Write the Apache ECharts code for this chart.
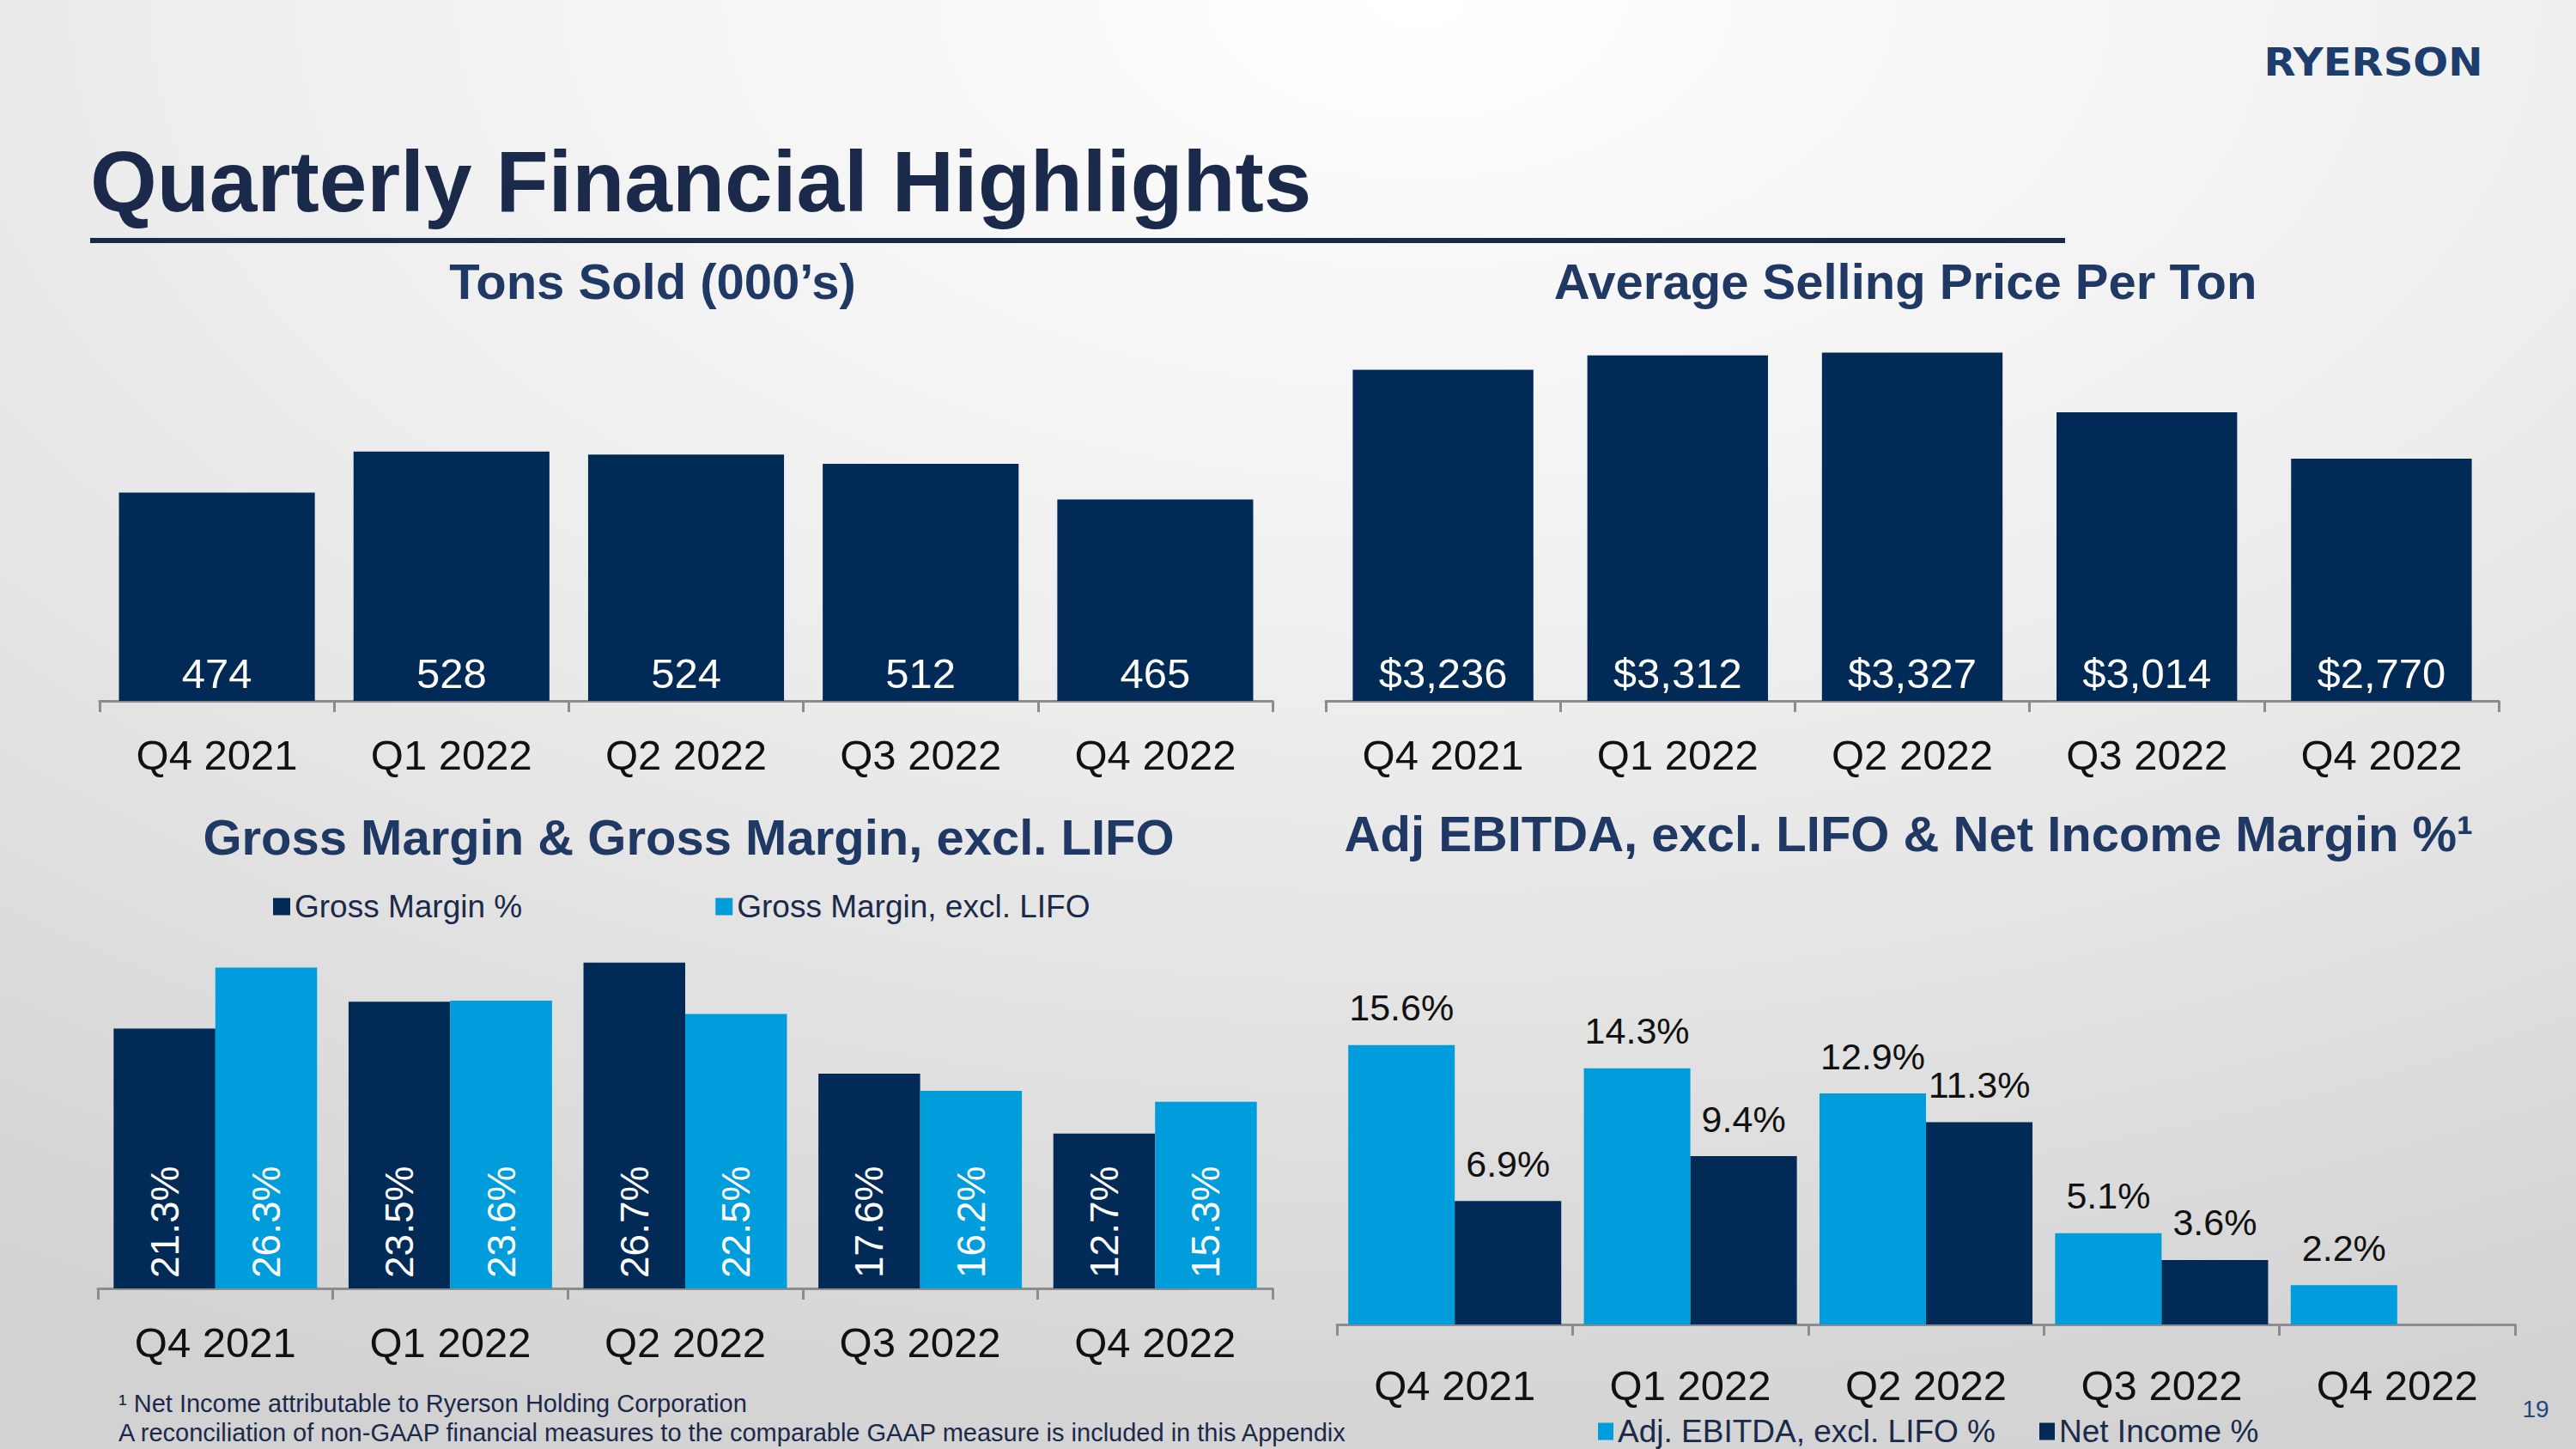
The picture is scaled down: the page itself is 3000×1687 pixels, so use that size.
<!DOCTYPE html>
<html>
<head>
<meta charset="utf-8">
<script src="https://cdn.jsdelivr.net/npm/echarts@6/dist/echarts.min.js"></script>
<style>
html,body{margin:0;padding:0;width:100%;height:100%;overflow:hidden;}
#chart{width:3000px;height:1687px;}
</style>
</head>
<body>
<div id="chart"></div>
<script>
// ---- data ----
const quarters = ['Q4 2021', 'Q1 2022', 'Q2 2022', 'Q3 2022', 'Q4 2022'];
const tonsSold = [474, 528, 524, 512, 465];
const avgSellingPrice = [3236, 3312, 3327, 3014, 2770];
const grossMargin = [21.3, 23.5, 26.7, 17.6, 12.7];
const grossMarginExLifo = [26.3, 23.6, 22.5, 16.2, 15.3];
const adjEbitdaMargin = [15.6, 14.3, 12.9, 5.1, 2.2];
const netIncomeMargin = [6.9, 9.4, 11.3, 3.6, null];

// ---- styles ----
const NAVY = '#012a57';
const BLUE = '#009ddc';
const FONT = '"Liberation Sans", Arial, sans-serif';
const TITLE_C = '#1b2a4a';
const SUB_C = '#1f3864';

const chart = echarts.init(document.getElementById('chart'), null, {renderer: 'svg'});

function xAxis(gridIndex, margin) {
  return {
    type: 'category', gridIndex, data: quarters,
    axisLine: {show: true, lineStyle: {color: '#8c8c8c', width: 3}},
    axisTick: {show: true, length: 13, lineStyle: {color: '#8c8c8c', width: 3}},
    axisLabel: {interval: 0, fontSize: 49, color: '#111', fontFamily: FONT, margin: margin}
  };
}
function yAxis(gridIndex, min, max) {
  return {type: 'value', gridIndex, min, max, show: false, splitLine: {show: false}};
}
const pct = p => p.value == null ? '' : p.value.toFixed(1) + '%';

const option = {
  backgroundColor: {
    type: 'radial', x: 0.55, y: 0.0, r: 1.05,
    colorStops: [
      {offset: 0, color: '#ffffff'},
      {offset: 0.45, color: '#eeeeee'},
      {offset: 1, color: '#d2d2d3'}
    ]
  },
  animation: false,
  grid: [
    {left: 116, top: 462, width: 1366, height: 354},
    {left: 1544, top: 372, width: 1366, height: 444},
    {left: 114, top: 1074, width: 1368, height: 426},
    {left: 1557, top: 1125, width: 1372, height: 417}
  ],
  xAxis: [xAxis(0, 38), xAxis(1, 38), xAxis(2, 38), xAxis(3, 46)],
  yAxis: [yAxis(0, 200, 600), yAxis(1, 1500, 3500), yAxis(2, 0, 30), yAxis(3, 0, 20)],
  legend: [
    {
      data: ['Gross Margin %', 'Gross Margin, excl. LIFO'],
      left: 313, top: 1032, itemWidth: 20, itemHeight: 20, itemGap: 225, icon: 'rect',
      textStyle: {fontSize: 37, color: TITLE_C, fontFamily: FONT}
    },
    {
      data: ['Adj. EBITDA, excl. LIFO %', 'Net Income %'],
      left: 1856, top: 1643, itemWidth: 18, itemHeight: 20, itemGap: 51, icon: 'rect',
      textStyle: {fontSize: 37, color: TITLE_C, fontFamily: FONT}
    }
  ],
  series: [
    {
      name: 'Tons Sold', type: 'bar', xAxisIndex: 0, yAxisIndex: 0, data: tonsSold,
      barCategoryGap: '16.5%', itemStyle: {color: NAVY},
      label: {show: true, position: 'insideBottom', distance: 8, color: '#fff', fontSize: 49, fontFamily: FONT}
    },
    {
      name: 'Average Selling Price Per Ton', type: 'bar', xAxisIndex: 1, yAxisIndex: 1, data: avgSellingPrice,
      barCategoryGap: '23%', itemStyle: {color: NAVY},
      label: {show: true, position: 'insideBottom', distance: 8, color: '#fff', fontSize: 49, fontFamily: FONT,
        formatter: p => '$' + p.value.toLocaleString('en-US')}
    },
    {
      name: 'Gross Margin %', type: 'bar', xAxisIndex: 2, yAxisIndex: 2, data: grossMargin,
      barCategoryGap: '13.4%', barGap: '0%', itemStyle: {color: NAVY},
      label: {show: true, position: 'insideBottom', distance: 12, rotate: 90, align: 'left', verticalAlign: 'middle',
        color: '#fff', fontSize: 46, fontFamily: FONT, formatter: pct}
    },
    {
      name: 'Gross Margin, excl. LIFO', type: 'bar', xAxisIndex: 2, yAxisIndex: 2, data: grossMarginExLifo,
      barCategoryGap: '13.4%', barGap: '0%', itemStyle: {color: BLUE},
      label: {show: true, position: 'insideBottom', distance: 12, rotate: 90, align: 'left', verticalAlign: 'middle',
        color: '#fff', fontSize: 46, fontFamily: FONT, formatter: pct}
    },
    {
      name: 'Adj. EBITDA, excl. LIFO %', type: 'bar', xAxisIndex: 3, yAxisIndex: 3, data: adjEbitdaMargin,
      barCategoryGap: '9.6%', barGap: '0%', itemStyle: {color: BLUE},
      label: {show: true, position: 'top', distance: 22, color: '#111', fontSize: 43, fontFamily: FONT, formatter: pct}
    },
    {
      name: 'Net Income %', type: 'bar', xAxisIndex: 3, yAxisIndex: 3, data: netIncomeMargin,
      barCategoryGap: '9.6%', barGap: '0%', itemStyle: {color: NAVY},
      label: {show: true, position: 'top', distance: 22, color: '#111', fontSize: 43, fontFamily: FONT, formatter: pct}
    }
  ],
  graphic: [
    {type: 'text', x: 2764, y: 73, scaleX: 1.07, style: {text: 'RYERSON', fontSize: 45, fontWeight: 'bold',
      fontFamily: '"DejaVu Sans", sans-serif', fill: '#1d3d6c', align: 'center', verticalAlign: 'middle'}},
    {type: 'text', x: 105, y: 211, style: {text: 'Quarterly Financial Highlights', fontSize: 100, fontWeight: 'bold',
      fontFamily: FONT, fill: TITLE_C, align: 'left', verticalAlign: 'middle'}},
    {type: 'rect', shape: {x: 105, y: 277, width: 2300, height: 6}, style: {fill: TITLE_C}},
    {type: 'text', x: 760, y: 327, style: {text: 'Tons Sold (000\u2019s)', fontSize: 58, fontWeight: 'bold',
      fontFamily: FONT, fill: SUB_C, align: 'center', verticalAlign: 'middle'}},
    {type: 'text', x: 2219, y: 327, style: {text: 'Average Selling Price Per Ton', fontSize: 58, fontWeight: 'bold',
      fontFamily: FONT, fill: SUB_C, align: 'center', verticalAlign: 'middle'}},
    {type: 'text', x: 802, y: 974, style: {text: 'Gross Margin & Gross Margin, excl. LIFO', fontSize: 58, fontWeight: 'bold',
      fontFamily: FONT, fill: SUB_C, align: 'center', verticalAlign: 'middle'}},
    {type: 'text', x: 2223, y: 970, style: {text: 'Adj EBITDA, excl. LIFO & Net Income Margin %\u00b9', fontSize: 58, fontWeight: 'bold',
      fontFamily: FONT, fill: SUB_C, align: 'center', verticalAlign: 'middle'}},
    {type: 'text', x: 138, y: 1634, style: {text: '\u00b9 Net Income attributable to Ryerson Holding Corporation', fontSize: 29,
      fontFamily: FONT, fill: TITLE_C, align: 'left', verticalAlign: 'middle'}},
    {type: 'text', x: 138, y: 1668, style: {text: 'A reconciliation of non-GAAP financial measures to the comparable GAAP measure is included in this Appendix', fontSize: 29,
      fontFamily: FONT, fill: TITLE_C, align: 'left', verticalAlign: 'middle'}},
    {type: 'text', x: 2953, y: 1640, style: {text: '19', fontSize: 28,
      fontFamily: FONT, fill: '#1f497d', align: 'center', verticalAlign: 'middle'}}
  ]
};
chart.setOption(option);
</script>
</body>
</html>
